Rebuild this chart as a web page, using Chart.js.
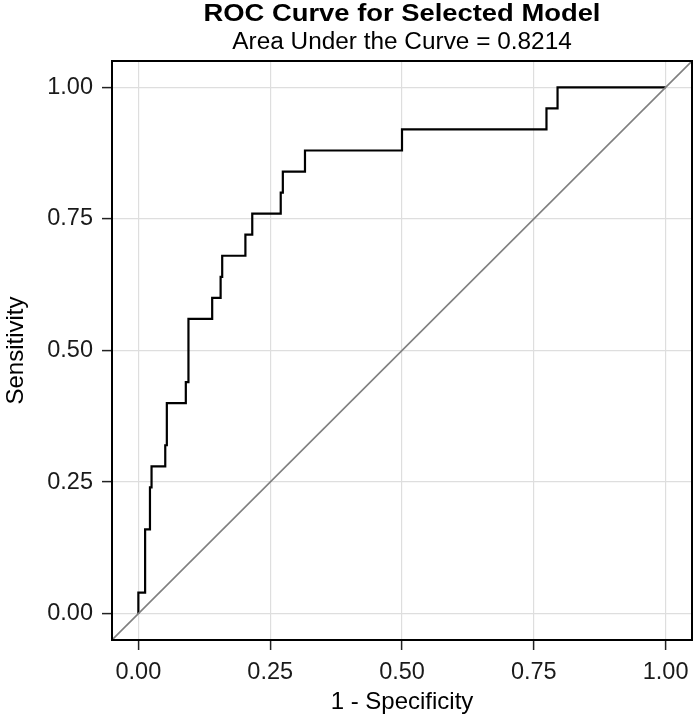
<!DOCTYPE html>
<html>
<head>
<meta charset="utf-8">
<title>ROC Curve</title>
<script src="https://cdn.jsdelivr.net/npm/chart.js@4.4.1/dist/chart.umd.min.js"></script>
<style>
  html, body { margin:0; padding:0; background:#ffffff; }
  #wrap { width:699px; height:719px; }
</style>
</head>
<body>
<div id="wrap"><canvas id="rocChart" width="699" height="719"></canvas></div>
<script>

/* ===========================
   DATA
=========================== */

const titleText = "ROC Curve for Selected Model";

const subtitleText = "Area Under the Curve = 0.8214";

const xTitle = "1 - Specificity";

const yTitle = "Sensitivity";

// step corners of the ROC curve (1 - specificity, sensitivity)
const fpr = [0, 0, 0.0128, 0.0128, 0.022, 0.022, 0.025, 0.025, 0.051, 0.051,
             0.054, 0.054, 0.090, 0.090, 0.095, 0.095, 0.140, 0.140, 0.156, 0.156,
             0.159, 0.159, 0.203, 0.203, 0.216, 0.216, 0.270, 0.270, 0.274, 0.274,
             0.316, 0.316, 0.500, 0.500, 0.774, 0.774, 0.795, 0.795, 1.0];

const tpr = [0, 0.04, 0.04, 0.16, 0.16, 0.24, 0.24, 0.28, 0.28, 0.32,
             0.32, 0.40, 0.40, 0.44, 0.44, 0.56, 0.56, 0.60, 0.60, 0.64,
             0.64, 0.68, 0.68, 0.72, 0.72, 0.76, 0.76, 0.80, 0.80, 0.84,
             0.84, 0.88, 0.88, 0.92, 0.92, 0.96, 0.96, 1.00, 1.00];

// reference line y = x, over the full panel
const diagX = [-0.05, 1.05];

const diagY = [-0.05, 1.05];

const tickValues = [0, 0.25, 0.5, 0.75, 1];

const axisMin = -0.05;

const axisMax = 1.05;

/* ===========================
   HELPERS
=========================== */

const FONT = "'Liberation Sans', Arial, Helvetica, sans-serif";

function toPoints(xs, ys){

    return xs.map((x, i) => ({ x: x, y: ys[i] }));

}

function setTicks(scale){

    scale.ticks = tickValues.map(v => ({ value: v }));

}

// the original title glyphs are a bit wider than Liberation Sans
function wideText(ctx, text, x, y, font, stretch){

    ctx.save();
    ctx.font = font;
    ctx.translate(x, y);
    ctx.scale(stretch, 1);
    ctx.fillText(text, 0, 0);
    ctx.restore();

}

/* ===========================
   PANEL + TITLES PLUGIN
=========================== */

const panelPlugin = {

    id: "panel",

    afterDraw(chart){

        const ctx = chart.ctx;

        const a = chart.chartArea;

        ctx.save();

        // panel border
        ctx.strokeStyle = "#000000";
        ctx.lineWidth = 2;
        ctx.strokeRect(a.left, a.top, a.right - a.left, a.bottom - a.top);

        // titles centred over the panel
        const cx = (a.left + a.right) / 2;

        ctx.fillStyle = "#000000";
        ctx.textAlign = "center";
        ctx.textBaseline = "alphabetic";

        wideText(ctx, titleText, cx, 21, "bold 23px " + FONT, 1.19);

        wideText(ctx, subtitleText, cx, 49, "23px " + FONT, 1.06);

        ctx.restore();

    }

};

/* ===========================
   CHART
=========================== */

function makeAxis(pos, labelPad){

    return {

        type: "linear",

        position: pos,

        min: axisMin,

        max: axisMax,

        afterBuildTicks: setTicks,

        border: { display: false },

        grid: {
            color: "#dedede",
            lineWidth: 1.2,
            drawTicks: true,
            tickLength: 10,
            tickColor: "#222222",
            tickWidth: 1.5
        },

        ticks: {
            color: "#1a1a1a",
            padding: labelPad,
            font: { family: FONT, size: 23.5 },
            callback: v => Number(v).toFixed(2)
        }

    };

}

const xAxis = makeAxis("bottom", 8);

xAxis.afterFit = s => { s.height = 79; };

xAxis.title = {
    display: true,
    text: xTitle,
    color: "#000000",
    font: { family: FONT, size: 24 },
    padding: { top: 0, bottom: 2 }
};

const yAxis = makeAxis("left", 9);

yAxis.afterFit = s => { s.width = 112; };

yAxis.title = {
    display: true,
    text: yTitle,
    color: "#000000",
    font: { family: FONT, size: 24 },
    padding: { top: 2, bottom: 0 }
};

new Chart(

    document.getElementById("rocChart"),

    {

        type: "scatter",

        data: {

            datasets: [

                {
                    label: "Chance",
                    data: toPoints(diagX, diagY),
                    showLine: true,
                    borderColor: "#808080",
                    borderWidth: 1.6,
                    pointRadius: 0,
                    fill: false
                },

                {
                    label: "ROC",
                    data: toPoints(fpr, tpr),
                    showLine: true,
                    borderColor: "#000000",
                    borderWidth: 2.2,
                    pointRadius: 0,
                    fill: false,
                    tension: 0
                }

            ]

        },

        options: {

            responsive: false,

            animation: false,

            devicePixelRatio: 1,

            layout: {
                padding: { top: 61, right: 7, bottom: 0, left: 0 }
            },

            plugins: {
                legend: { display: false },
                tooltip: { enabled: false }
            },

            scales: {

                x: xAxis,

                y: yAxis

            }

        },

        plugins: [panelPlugin]

    }

);

</script>
</body>
</html>
